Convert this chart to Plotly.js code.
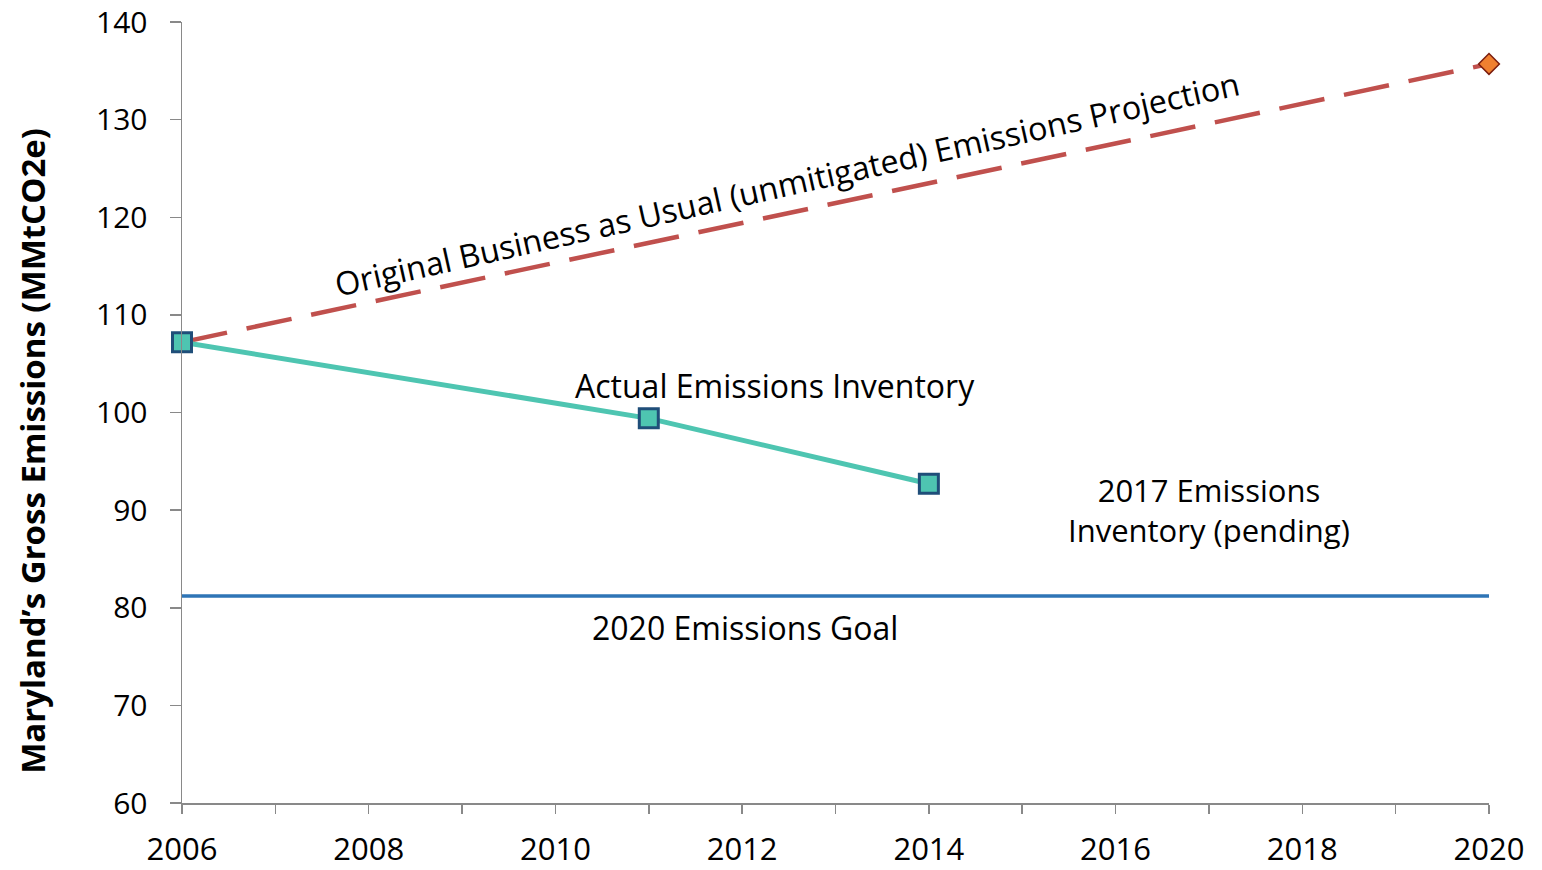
<!DOCTYPE html>
<html>
<head>
<meta charset="utf-8">
<script src="https://cdn.plot.ly/plotly-3.0.1.min.js"></script>
<style>html,body{margin:0;padding:0;background:#fff;}#chart{width:1542px;height:870px;}</style>
</head>
<body>
<div id="chart"></div>
<script>
// Data
const bauYears = [2006, 2020];
const bauValues = [107.2, 135.7];
const actualYears = [2006, 2011, 2014];
const actualValues = [107.2, 99.4, 92.7];
const goalYears = [2006, 2020];
const goalValues = [81.2, 81.2];
const xTickVals = [2006, 2008, 2010, 2012, 2014, 2016, 2018, 2020];
const yTickVals = [60, 70, 80, 90, 100, 110, 120, 130, 140];

const FONT = '"Open Sans", "Noto Sans", sans-serif';

const traces = [
  {
    x: goalYears, y: goalValues, mode: 'lines', type: 'scatter',
    line: {color: '#2E75B6', width: 3.5}, hoverinfo: 'skip', showlegend: false, cliponaxis: false
  },
  {
    x: bauYears, y: bauValues, mode: 'lines', type: 'scatter',
    line: {color: '#C0504D', width: 4.5, dash: '46px,20px'}, hoverinfo: 'skip', showlegend: false, cliponaxis: false
  },
  {
    x: [bauYears[1]], y: [bauValues[1]], mode: 'markers', type: 'scatter',
    marker: {symbol: 'diamond', size: 16, color: '#F08030', line: {color: '#7B1D0E', width: 1.5}},
    hoverinfo: 'skip', showlegend: false, cliponaxis: false
  },
  {
    x: actualYears, y: actualValues, mode: 'lines+markers', type: 'scatter',
    line: {color: '#4EC5B1', width: 5},
    marker: {symbol: 'square', size: 19, color: '#4EC5B1', line: {color: '#1F4E79', width: 3}},
    hoverinfo: 'skip', showlegend: false, cliponaxis: false
  }
];

const layout = {
  width: 1542, height: 870,
  margin: {l: 182, r: 53, t: 22, b: 67},
  paper_bgcolor: '#fff', plot_bgcolor: '#fff',
  font: {family: FONT, color: '#000'},
  xaxis: {
    range: [2006, 2020], tickvals: xTickVals, ticktext: xTickVals.map(String),
    showgrid: false, zeroline: false,
    showline: true, linecolor: '#898989', linewidth: 1.5,
    ticks: 'outside', ticklen: 9, tickwidth: 1.5, tickcolor: '#898989',
    minor: {dtick: 1, ticks: 'outside', ticklen: 9, tickwidth: 1.5, tickcolor: '#898989', showgrid: false},
    tickfont: {family: FONT, size: 31, color: '#000'},
    ticklabelstandoff: 9,
    ticklabeloverflow: 'allow'
  },
  yaxis: {
    range: [60, 140], tickvals: yTickVals,
    showgrid: false, zeroline: false,
    showline: true, linecolor: '#898989', linewidth: 1.5,
    ticks: 'outside', ticklen: 11, tickwidth: 1.5, tickcolor: '#898989',
    tickfont: {family: FONT, size: 30, color: '#000'},
    ticklabelstandoff: 16,
    ticklabeloverflow: 'allow'
  },
  annotations: [
    {
      xref: 'paper', yref: 'paper', x: (33 - 182) / 1307, y: 0.451,
      xanchor: 'center', yanchor: 'middle', showarrow: false,
      text: '<b>Maryland’s Gross Emissions (MMtCO2e)</b>', textangle: -90,
      font: {family: FONT, size: 33, color: '#000'}
    },
    {
      x: 2012.48, y: 123.5, xref: 'x', yref: 'y', showarrow: false,
      text: 'Original Business as Usual (unmitigated) Emissions Projection',
      textangle: -12.6, font: {family: FONT, size: 32.4, color: '#000'}
    },
    {
      x: 2012.35, y: 102.8, xref: 'x', yref: 'y', showarrow: false,
      text: 'Actual Emissions Inventory',
      font: {family: FONT, size: 32, color: '#000'}
    },
    {
      x: 2017.0, y: 90.0, xref: 'x', yref: 'y', showarrow: false,
      text: '2017 Emissions<br>Inventory (pending)',
      font: {family: FONT, size: 31, color: '#000'}
    },
    {
      x: 2012.03, y: 78.0, xref: 'x', yref: 'y', showarrow: false,
      text: '2020 Emissions Goal',
      font: {family: FONT, size: 32, color: '#000'}
    }
  ]
};

Plotly.newPlot('chart', traces, layout, {displayModeBar: false, staticPlot: true});
</script>
</body>
</html>
